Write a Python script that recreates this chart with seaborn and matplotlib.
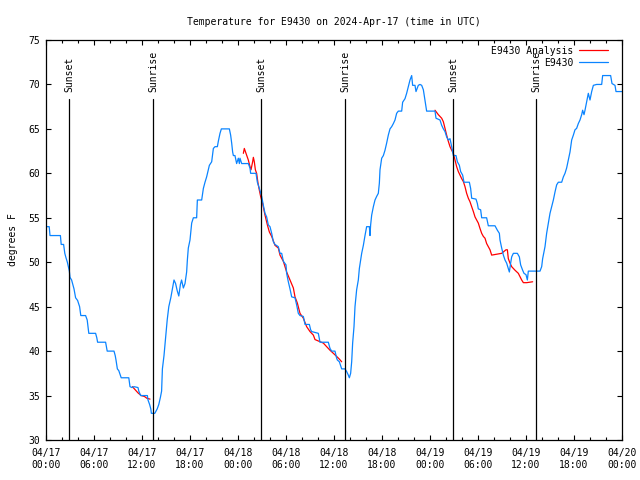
import pandas as pd
import matplotlib
matplotlib.use("Agg")
import matplotlib.pyplot as plt
import matplotlib.dates as mdates
import seaborn as sns

# hours after 2024-04-17 00:00 UTC
obs_hours = [0.0, 0.4, 0.5, 1.8, 1.9, 2.2, 2.35, 2.5, 2.67, 2.8, 2.92, 3.0, 3.2, 3.35,
             3.5, 3.7, 3.95, 4.2, 4.35, 4.95, 5.15, 5.35, 6.2, 6.35, 6.45, 7.45, 7.65,
             8.5, 8.65, 8.75, 8.92, 9.1, 9.4, 10.35, 10.5, 10.75, 11.0, 11.5, 11.6,
             11.83, 12.67, 12.75, 12.95, 13.1, 13.17, 13.6, 13.9, 14.1, 14.3, 14.45,
             14.55, 14.75, 14.95, 15.15, 15.35, 15.6, 15.8, 16.0, 16.2, 16.4, 16.6,
             16.8, 16.95, 17.17, 17.375, 17.58, 17.67, 17.79, 18.0, 18.21, 18.42,
             18.83, 18.92, 19.46, 19.67, 19.875, 20.08, 20.42, 20.71, 20.92, 21.125,
             21.42, 21.54, 21.75, 21.92, 22.92, 23.08, 23.21, 23.33, 23.42, 23.62,
             23.83, 24.04, 24.17, 24.25, 24.46, 25.29, 25.5, 25.58, 26.25, 26.42,
             26.67, 26.96, 27.17, 27.375, 27.58, 27.79, 28.0, 28.21, 28.42, 28.62,
             29.04, 29.25, 29.46, 29.67, 30.0, 30.08, 30.29, 30.5, 30.71, 31.125,
             31.33, 31.54, 31.75, 32.17, 32.375, 32.92, 33.08, 33.21, 34.04, 34.25,
             35.29, 35.5, 35.71, 36.125, 36.33, 36.42, 36.67, 36.96, 37.375, 37.58,
             37.79, 37.92, 38.08, 38.21, 38.33, 38.5, 38.625, 38.83, 39.04, 39.17,
             39.33, 39.46, 39.67, 39.875, 40.08, 40.42, 40.5, 40.58, 40.71, 40.8,
             40.92, 41.125, 41.33, 41.54, 41.67, 41.75, 41.96, 42.17, 42.375, 42.58,
             42.79, 43.0, 43.21, 43.42, 43.625, 43.83, 44.04, 44.46, 44.58, 44.875,
             45.08, 45.29, 45.5, 45.71, 45.83, 46.125, 46.25, 46.42, 46.54, 46.75,
             46.96, 47.17, 47.375, 47.58, 48.625, 48.75, 49.25, 49.46, 49.67, 49.875,
             50.08, 50.29, 50.5, 50.71, 50.92, 51.25, 51.42, 51.67, 51.83, 52.08,
             52.25, 52.92, 53.08, 53.21, 53.75, 53.92, 54.04, 54.33, 54.46, 55.08,
             55.29, 56.125, 56.42, 56.67, 56.75, 56.96, 57.17, 57.375, 57.58, 57.79,
             57.92, 58.08, 58.21, 58.42, 58.92, 59.17, 59.33, 59.58, 59.75, 60.0,
             60.17, 60.29, 61.75, 61.96, 62.08, 62.375, 62.58, 62.79, 63.0, 63.21,
             63.42, 63.625, 63.83, 64.04, 64.46, 64.67, 64.875, 65.08, 65.29, 65.5,
             65.71, 65.92, 66.125, 66.33, 66.54, 66.75, 66.96, 67.08, 67.25, 67.375,
             67.58, 67.79, 68.0, 68.21, 68.42, 68.83, 69.46, 69.58, 70.58, 70.75,
             71.125, 71.25, 72.0]
obs_temps = [54.0, 54.0, 53.0, 53.0, 52.0, 52.0, 51.0, 50.5, 50.0, 49.5, 49.0, 48.3, 48.0, 47.5,
             47.0, 46.0, 45.7, 45.0, 44.0, 44.0, 43.5, 42.0, 42.0, 41.5, 41.0, 41.0, 40.0,
             40.0, 39.5, 39.0, 38.0, 37.8, 37.0, 37.0, 36.0, 35.9, 36.0, 35.9, 35.5,
             35.0, 35.0, 34.5, 34.0, 33.5, 33.0, 33.0, 33.5, 34.0, 34.8, 35.5,
             38.0, 39.5, 41.5, 43.5, 45.0, 46.0, 47.0, 48.0, 47.6, 46.8, 46.2,
             47.5, 48.0, 47.1, 47.6, 48.9, 50.25, 51.6, 52.5, 54.4, 55.0,
             55.0, 57.0, 57.0, 58.3, 59.0, 59.6, 60.9, 61.3, 62.8, 63.0,
             63.0, 63.6, 64.5, 65.0, 65.0, 64.3, 63.4, 62.4, 62.0, 62.0,
             61.1, 61.7, 61.1, 61.7, 61.1, 61.1, 60.6, 60.0, 60.0, 59.0,
             58.3, 57.4, 56.4, 55.5, 55.1, 54.2, 54.0, 53.25, 52.3, 52.0,
             51.75, 51.0, 51.0, 50.1, 49.7, 48.75, 47.8, 47.0, 46.1, 46.0,
             45.2, 44.25, 44.0, 43.9, 43.0, 43.0, 42.4, 42.2, 42.0, 41.0,
             41.0, 40.3, 40.0, 40.0, 39.2, 39.0, 38.8, 38.0, 38.0, 37.7,
             37.3, 37.0, 37.5, 38.8, 40.9, 42.75, 45.0, 46.9, 48.0, 49.3,
             50.25, 51.0, 51.9, 53.0, 54.0, 54.0, 53.0, 54.2, 55.3, 55.7,
             56.25, 57.0, 57.4, 57.75, 58.9, 60.4, 61.7, 62.0, 62.6, 63.4,
             64.3, 65.0, 65.25, 65.6, 66.0, 66.75, 67.0, 67.0, 68.0, 68.4,
             69.0, 69.75, 70.5, 71.0, 69.9, 69.9, 69.2, 69.6, 69.9, 70.0,
             69.9, 69.4, 68.2, 67.0, 67.0, 66.2, 66.0, 65.4, 65.0, 64.7,
             64.1, 63.75, 63.9, 63.0, 62.0, 62.0, 61.3, 60.9, 60.2, 59.8,
             59.0, 59.0, 58.3, 57.2, 57.1, 56.6, 56.0, 55.9, 55.0, 55.0,
             54.1, 54.1, 53.6, 53.25, 52.5, 51.6, 50.8, 50.25, 49.9, 49.3,
             48.9, 49.9, 50.6, 51.0, 51.0, 50.6, 49.7, 49.1, 48.75, 48.6,
             48.0, 49.0, 49.0, 49.5, 50.4, 51.75, 53.25, 54.4, 55.5, 56.25,
             57.0, 57.9, 58.7, 59.0, 59.0, 59.6, 60.0, 60.6, 61.5, 62.4,
             63.75, 64.3, 64.9, 65.06, 65.6, 66.0, 66.6, 67.1, 66.6, 67.1,
             68.06, 69.0, 68.25, 69.2, 69.9, 70.0, 70.0, 71.0, 71.0, 70.1,
             69.9, 69.2, 69.2]

# analysis runs (three separate pieces)
ana1_hours = [10.8, 11.1, 11.5, 11.9, 12.3, 12.6, 13.0]
ana1_temps = [36.0, 35.7, 35.3, 35.0, 34.9, 34.7, 34.6]
ana2_hours = [24.67, 24.79, 25.0, 25.29, 25.5, 25.625, 25.83, 25.92, 26.04, 26.17, 26.33,
              26.5, 26.67, 26.83, 27.08, 27.375, 27.67, 27.92, 28.21, 28.625, 29.04,
              29.25, 29.67, 30.08, 30.5, 30.92, 31.125, 31.42, 31.75, 32.17, 32.58,
              33.0, 33.42, 33.625, 34.25, 34.67, 35.08, 35.5, 35.92, 36.33, 36.67, 36.96]
ana2_temps = [62.25, 62.8, 62.25, 61.5, 60.75, 60.4, 61.3, 61.8, 61.3, 60.4, 60.0,
              58.9, 58.1, 57.4, 56.6, 55.3, 54.2, 53.4, 52.9, 51.9, 51.6,
              50.8, 50.1, 48.9, 48.0, 47.1, 46.1, 45.4, 44.25, 43.7, 42.75,
              42.2, 41.8, 41.3, 41.06, 40.9, 40.5, 40.1, 39.75, 39.4, 39.1, 38.8]
ana3_hours = [48.625, 49.04, 49.46, 49.67, 49.875, 50.08, 50.29, 50.5, 50.71, 50.92,
              51.125, 51.33, 51.54, 51.75, 51.96, 52.17, 52.375, 52.58, 52.79, 53.0,
              53.21, 53.42, 53.625, 53.83, 54.04, 54.25, 54.46, 54.67, 54.875, 55.08,
              55.29, 55.5, 55.71, 56.33, 56.96, 57.5, 57.67, 57.79, 58.0, 58.21,
              58.625, 59.04, 59.46, 59.67, 60.08, 60.83]
ana3_temps = [67.1, 66.6, 66.2, 65.8, 65.06, 64.3, 63.6, 63.0, 62.6, 62.25,
              61.5, 60.75, 60.2, 59.8, 59.4, 59.07, 58.5, 57.75, 57.2, 56.8,
              56.25, 55.7, 55.1, 54.75, 54.4, 53.8, 53.25, 52.9, 52.7, 52.1,
              51.75, 51.4, 50.8, 50.9, 51.0, 51.4, 51.4, 50.4, 49.9, 49.5,
              49.1, 48.75, 48.0, 47.7, 47.7, 47.8]

sunset_hours = [2.9, 26.9, 50.9]
sunrise_hours = [13.4, 37.4, 61.3]

start = pd.Timestamp("2024-04-17 00:00")


def to_time(hours):
    return start + pd.to_timedelta(pd.Series(hours), unit="h")


sns.set_style("ticks")
plt.rcParams["font.family"] = ["DejaVu Sans Mono"]
plt.rcParams["font.size"] = 7
plt.rcParams["text.color"] = "black"
plt.rcParams["axes.labelcolor"] = "black"
plt.rcParams["xtick.color"] = "black"
plt.rcParams["ytick.color"] = "black"

fig = plt.figure(figsize=(6.4, 4.8), dpi=100)
ax = fig.add_axes([46 / 640, 40 / 480, 576 / 640, 400 / 480])

ana_runs = [(ana1_hours, ana1_temps), (ana2_hours, ana2_temps), (ana3_hours, ana3_temps)]
for i, (hh, tt) in enumerate(ana_runs):
    sns.lineplot(x=to_time(hh), y=tt, ax=ax, color="#ff0000", linewidth=0.9,
                 estimator=None, sort=False, label="E9430 Analysis" if i == 0 else None)
sns.lineplot(x=to_time(obs_hours), y=obs_temps, ax=ax, color="#0a84ff", linewidth=0.9,
             estimator=None, sort=False, label="E9430")

for names, hours in (("Sunset", sunset_hours), ("Sunrise", sunrise_hours)):
    for t in to_time(hours):
        ax.axvline(t, ymin=0, ymax=0.8525, color="black", linewidth=0.9)
        ax.text(t, 69.1, names, rotation=90, ha="center", va="bottom", fontsize=7,
                color="black")

ax.set_xlim(start, start + pd.Timedelta(hours=72))
ax.set_ylim(30, 75)
ax.set_yticks(range(30, 80, 5))
ax.xaxis.set_major_locator(mdates.HourLocator(byhour=[0, 6, 12, 18]))
ax.xaxis.set_minor_locator(mdates.HourLocator(byhour=range(0, 24, 2)))
ax.xaxis.set_major_formatter(mdates.DateFormatter("%m/%d\n%H:%M"))
ax.tick_params(which="both", direction="in", top=True, right=True, colors="black",
               labelcolor="black")
ax.tick_params(which="major", length=3.5, width=0.8, labelsize=7)
ax.tick_params(axis="x", which="major", pad=6)
ax.tick_params(axis="y", which="major", pad=4)
ax.tick_params(which="minor", length=2, width=0.8)
for s in ax.spines.values():
    s.set_color("black")
    s.set_linewidth(0.9)

ax.set_xlabel("")
ax.set_ylabel("degrees F", fontsize=7, labelpad=8, color="black")
ax.set_title("Temperature for E9430 on 2024-Apr-17 (time in UTC)", fontsize=7, pad=11,
             color="black")

leg = ax.legend(loc="upper right", bbox_to_anchor=(1 - 8 / 576, 1), frameon=False,
                markerfirst=False, fontsize=7, handlelength=3.0, handletextpad=0.6,
                labelspacing=0.2, borderaxespad=0.3, borderpad=0.3)
for txt in leg.get_texts():
    txt.set_color("black")

fig.savefig("out.png", dpi=100)
